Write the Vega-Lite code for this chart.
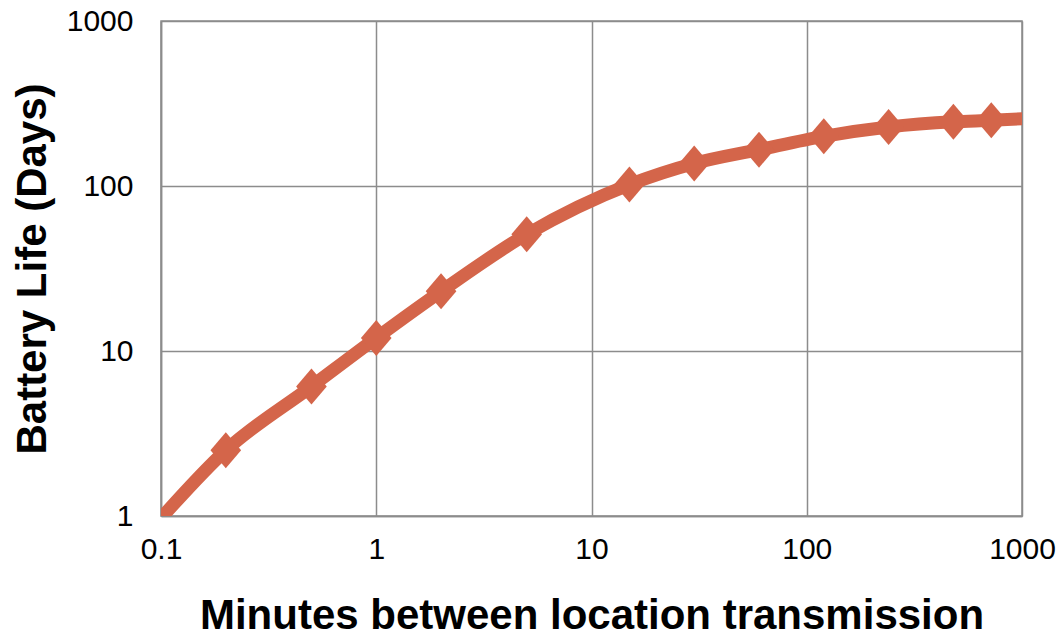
{
  "$schema": "https://vega.github.io/schema/vega-lite/v6.json",
  "width": 861,
  "height": 495,
  "autosize": {"type": "none"},
  "padding": {"left": 161, "top": 21, "right": 38, "bottom": 118},
  "background": "white",
  "config": {
    "font": "Liberation Sans",
    "view": {"stroke": "#8c8c8c", "strokeWidth": 1.5}
  },
  "data": {
    "values": [
      {"minutes": 0.1, "days": 0.97},
      {"minutes": 0.2, "days": 2.5},
      {"minutes": 0.5, "days": 6.1},
      {"minutes": 1, "days": 12},
      {"minutes": 2, "days": 23},
      {"minutes": 5, "days": 51},
      {"minutes": 15, "days": 102},
      {"minutes": 30, "days": 137},
      {"minutes": 60, "days": 166},
      {"minutes": 120, "days": 200},
      {"minutes": 240, "days": 228},
      {"minutes": 480, "days": 245},
      {"minutes": 720, "days": 250},
      {"minutes": 1440, "days": 262}
    ]
  },
  "encoding": {
    "x": {
      "field": "minutes",
      "type": "quantitative",
      "scale": {"type": "log", "domain": [0.1, 1000]},
      "axis": {
        "title": "Minutes between location transmission",
        "values": [0.1, 1, 10, 100, 1000],
        "format": "~f",
        "grid": true,
        "gridColor": "#8c8c8c",
        "gridWidth": 1.5,
        "domainColor": "#8c8c8c",
        "domainWidth": 1.5,
        "ticks": false,
        "labelFontSize": 30,
        "labelColor": "#000000",
        "labelPadding": 18,
        "labelFlush": false,
        "titleFontSize": 42,
        "titleFontWeight": "bold",
        "titleColor": "#000000",
        "titleY": 99,
        "titleBaseline": "middle"
      }
    },
    "y": {
      "field": "days",
      "type": "quantitative",
      "scale": {"type": "log", "domain": [1, 1000]},
      "axis": {
        "title": "Battery Life (Days)",
        "values": [1, 10, 100, 1000],
        "format": "~f",
        "grid": true,
        "gridColor": "#8c8c8c",
        "gridWidth": 1.5,
        "domainColor": "#8c8c8c",
        "domainWidth": 1.5,
        "ticks": false,
        "labelFontSize": 30,
        "labelColor": "#000000",
        "labelPadding": 28,
        "labelFlush": false,
        "titleFontSize": 42,
        "titleFontWeight": "bold",
        "titleColor": "#000000",
        "titleX": -129,
        "titleBaseline": "middle"
      }
    }
  },
  "layer": [
    {
      "mark": {
        "type": "line",
        "interpolate": "monotone",
        "color": "#d4654a",
        "strokeWidth": 13,
        "clip": true
      }
    },
    {
      "transform": [{"filter": "datum.minutes >= 0.2 && datum.minutes <= 720"}],
      "mark": {
        "type": "point",
        "shape": "M0,-1L0.85,0L0,1L-0.85,0Z",
        "size": 1300,
        "filled": true,
        "opacity": 1,
        "color": "#d4654a"
      }
    }
  ]
}
